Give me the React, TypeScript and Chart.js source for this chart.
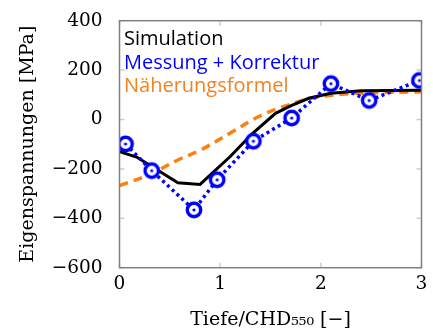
import React, { useEffect, useRef } from "react";
import { Chart, registerables } from "chart.js";

Chart.register(...registerables);

const simX = [0, 0.17, 0.58, 0.8, 1.1, 1.32, 1.55, 1.7, 1.88, 2.1, 2.4, 3];
const simY = [-130, -152, -256, -263, -150, -57, 25, 55, 86, 106, 116, 118];

const measX = [0.06, 0.32, 0.74, 0.97, 1.33, 1.71, 2.1, 2.48, 2.98];
const measY = [-99, -207, -366, -244, -88, 6, 145, 77, 158];

const approxX = [0, 0.3, 0.6, 0.8, 1.1, 1.4, 1.7, 1.9, 2.2, 2.5, 3];
const approxY = [-268, -222, -160, -125, -55, 15, 62, 86, 102, 108, 112];

const labels = ["Simulation", "Messung + Korrektur", "Näherungsformel"];
const colors = ["#000000", "#0000ff", "#ff7f0e"];

const xTicks = [0, 1, 2, 3];
const yTicks = [-600, -400, -200, 0, 200, 400];

const xTitle = "Tiefe/CHD₅₅₀ [−]";
const yTitle = "Eigenspannungen [MPa]";

const serif = "'DejaVu Serif', 'Liberation Serif', serif";
Chart.defaults.font.family = serif;

const pts = (xs: number[], ys: number[]) => xs.map((x, i) => ({ x, y: ys[i] }));

function makeMarker() {
  const c = document.createElement("canvas");
  c.width = 20;
  c.height = 20;
  const g = c.getContext("2d")!;
  g.fillStyle = "#ffffff";
  g.beginPath();
  g.arc(10, 10, 6.7, 0, Math.PI * 2);
  g.fill();
  g.strokeStyle = "#0000ff";
  g.lineWidth = 3.4;
  g.beginPath();
  g.arc(10, 10, 6.7, 0, Math.PI * 2);
  g.stroke();
  g.fillStyle = "#0000ff";
  g.beginPath();
  g.arc(10, 10, 1.6, 0, Math.PI * 2);
  g.fill();
  return c;
}

const framePlugin = {
  id: "frame",
  afterDatasetsDraw(chart: any) {
    const { ctx, chartArea: a, scales } = chart;
    ctx.save();
    ctx.strokeStyle = "#cfcfcf";
    ctx.lineWidth = 1.5;
    const L = 5;
    xTicks.forEach((v) => {
      const p = scales.x.getPixelForValue(v);
      ctx.beginPath();
      ctx.moveTo(p, a.bottom);
      ctx.lineTo(p, a.bottom - L);
      ctx.moveTo(p, a.top);
      ctx.lineTo(p, a.top + L);
      ctx.stroke();
    });
    yTicks.forEach((v) => {
      const p = scales.y.getPixelForValue(v);
      ctx.beginPath();
      ctx.moveTo(a.left, p);
      ctx.lineTo(a.left + L, p);
      ctx.moveTo(a.right, p);
      ctx.lineTo(a.right - L, p);
      ctx.stroke();
    });
    ctx.strokeStyle = "#808080";
    ctx.lineWidth = 1.5;
    ctx.strokeRect(a.left, a.top, a.right - a.left, a.bottom - a.top);
    ctx.restore();
  },
  afterDraw(chart: any) {
    const { ctx, chartArea: a } = chart;
    ctx.save();
    ctx.font = "20px 'Open Sans', sans-serif";
    ctx.textBaseline = "alphabetic";
    ctx.textAlign = "left";
    chart.data.datasets.forEach((ds: any, i: number) => {
      ctx.fillStyle = ds.legendColor;
      ctx.fillText(ds.label, a.left + 4.5, a.top + 24.5 + i * 23.5);
    });
    ctx.restore();
  },
};

export default function App() {
  const ref = useRef<HTMLCanvasElement>(null);
  useEffect(() => {
    const chart = new Chart(ref.current!, {
      type: "line",
      data: {
        datasets: [
          {
            label: labels[0],
            data: pts(simX, simY),
            borderColor: colors[0],
            borderWidth: 3,
            pointRadius: 0,
            tension: 0,
            order: 2,
            legendColor: colors[0],
          } as any,
          {
            label: labels[1],
            data: pts(measX, measY),
            borderColor: colors[1],
            borderWidth: 3.5,
            borderDash: [3, 3.5],
            pointStyle: makeMarker(),
            pointRadius: 8,
            tension: 0,
            order: 1,
            legendColor: colors[1],
          } as any,
          {
            label: labels[2],
            data: pts(approxX, approxY),
            borderColor: colors[2],
            borderWidth: 3.5,
            borderDash: [9, 6],
            pointRadius: 0,
            tension: 0.4,
            order: 3,
            legendColor: "#f58220",
          } as any,
        ],
      },
      options: {
        responsive: false,
        animation: false,
        devicePixelRatio: 1,
        layout: { padding: { top: 20.7, right: 9, left: 0, bottom: 0 } },
        plugins: { legend: { display: false }, tooltip: { enabled: false } },
        scales: {
          x: {
            type: "linear",
            min: 0,
            max: 3,
            afterBuildTicks: (s: any) => {
              s.ticks = xTicks.map((v) => ({ value: v }));
            },
            afterFit: (s: any) => {
              s.height = 63.3;
            },
            grid: { display: false },
            border: { display: false },
            ticks: {
              color: "#000",
              padding: -3,
              font: { family: serif, size: 18.5 },
            },
            title: {
              display: true,
              text: xTitle,
              color: "#000",
              padding: { top: 0, bottom: 0 },
              font: { family: serif, size: 19 },
            },
          },
          y: {
            type: "linear",
            min: -600,
            max: 400,
            afterBuildTicks: (s: any) => {
              s.ticks = yTicks.map((v) => ({ value: v }));
            },
            afterFit: (s: any) => {
              s.width = 119.5;
            },
            grid: { display: false },
            border: { display: false },
            ticks: {
              color: "#000",
              padding: 9,
              font: { family: serif, size: 18.5 },
              callback: (v: any) => (v < 0 ? "−" + Math.abs(v) : String(v)),
            },
            title: {
              display: true,
              text: yTitle,
              color: "#000",
              padding: { top: 17, bottom: 0 },
              font: { family: serif, size: 19 },
            },
          },
        },
      },
      plugins: [framePlugin],
    });
    return () => chart.destroy();
  }, []);
  return (
    <div style={{ position: "fixed", left: 0, top: 0, width: 433, height: 331, background: "#fff" }}>
      <canvas ref={ref} width={433} height={331} />
    </div>
  );
}
